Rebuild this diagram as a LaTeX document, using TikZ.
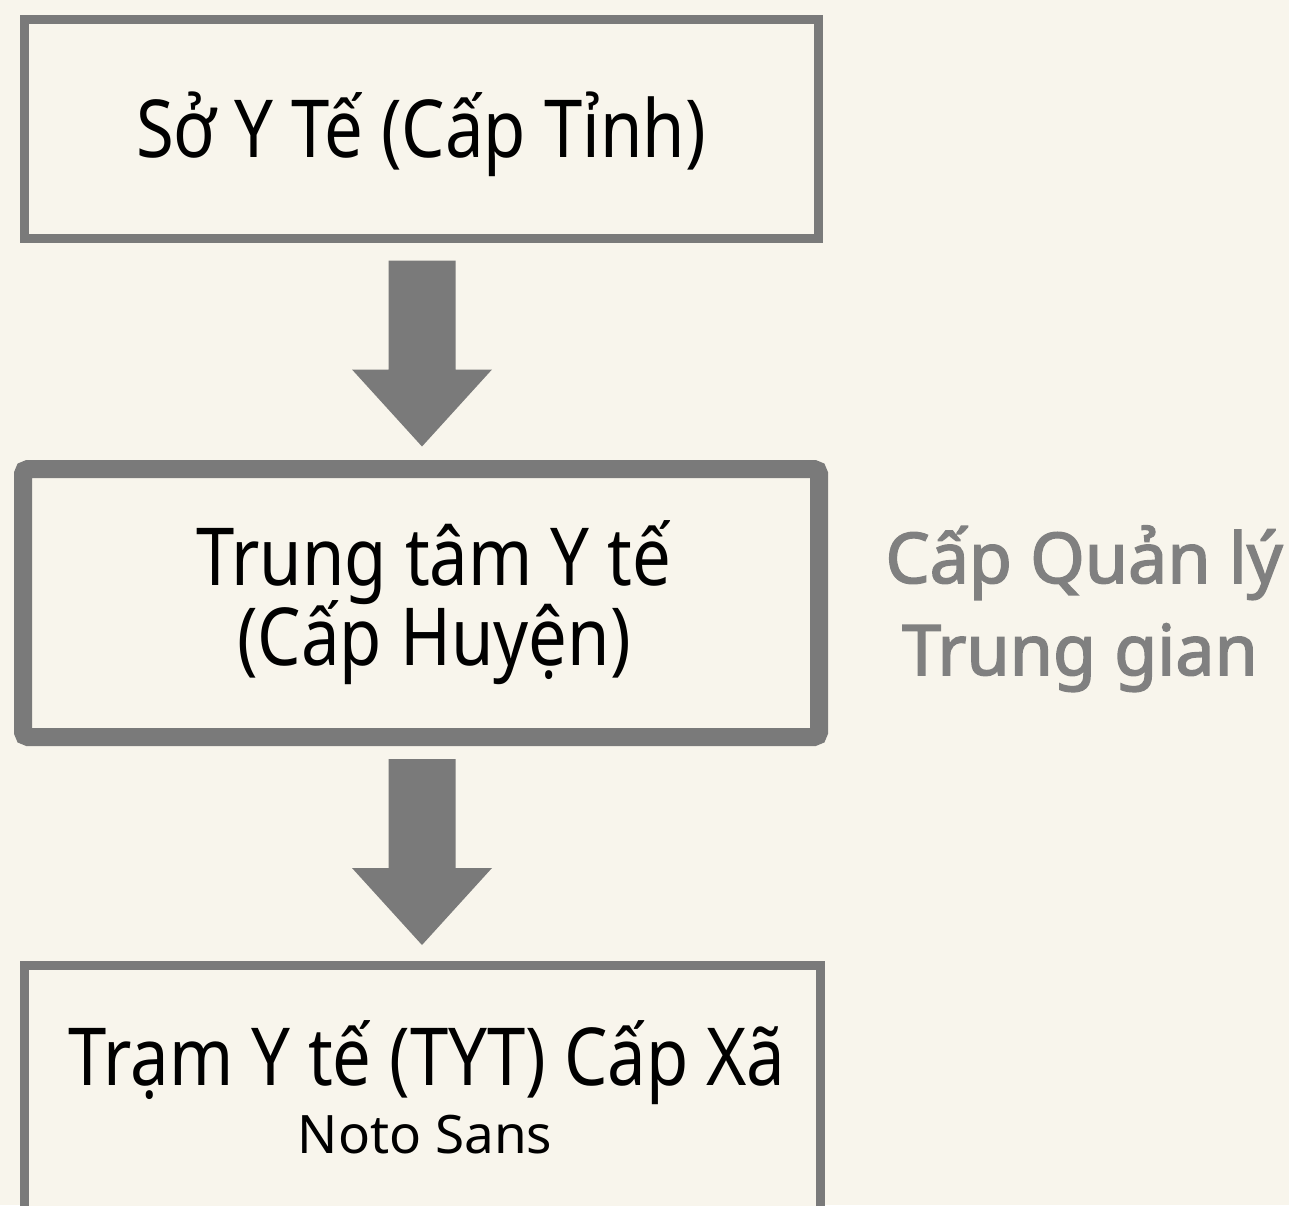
\documentclass[tikz,border=0pt]{standalone}
\usepackage{fontspec}
\setmainfont{Noto Sans}[FakeStretch=0.86]
\newfontfamily\sidefont{Noto Sans}[FakeBold=2.2]
\newfontfamily\plainnoto{Noto Sans}
\usetikzlibrary{calc}
\definecolor{bgcream}{HTML}{F8F5EC}
\definecolor{edgegrey}{HTML}{7A7A7A}
\definecolor{sidegrey}{HTML}{808080}
\tikzset{
  boxthin/.style={draw=edgegrey, line width=9pt, fill=bgcream, inner sep=0pt},
  boxthick/.style={draw=edgegrey, line width=18pt, fill=bgcream, inner sep=0pt, rounded corners=5pt},
  maintext/.style={font=\fontsize{80}{84}\selectfont, text=black, inner sep=0pt, align=center},
  subtext/.style={font=\plainnoto\fontsize{53}{56}\selectfont, text=black, inner sep=0pt},
  sidetext/.style={font=\sidefont\fontsize{70}{92}\selectfont, text=sidegrey, inner sep=0pt, align=center},
  arrowfill/.style={fill=edgegrey}
}
\newcommand{\blockarrow}[1]{%
  \fill[arrowfill] ($(#1)+(-33.5,0)$) -- ($(#1)+(33.5,0)$) -- ($(#1)+(33.5,109)$) -- ($(#1)+(70,109)$)
    -- ($(#1)+(0,186)$) -- ($(#1)+(-70,109)$) -- ($(#1)+(-33.5,109)$) -- cycle;}
\begin{document}
\begin{tikzpicture}[x=1pt, y=-1pt]
  \clip (0,0) rectangle (1289,1205);
  \fill[bgcream] (0,0) rectangle (1289,1205);
  % boxes
  \node[boxthin, minimum width=794pt, minimum height=219pt] (b1) at (421,128.5) {};
  \node[maintext, anchor=base] (t1) at (421,157) {Sở Y Tế (Cấp Tỉnh)};
  \node[boxthick, minimum width=796pt, minimum height=268pt] (b2) at (421,603) {};
  \node[maintext, anchor=base] (t2a) at (434,585) {Trung tâm Y tế};
  \node[maintext, anchor=base] (t2b) at (434,665) {(Cấp Huyện)};
  \node[boxthin, minimum width=796pt, minimum height=400pt] (b3) at (422,1165.5) {};
  \node[maintext, anchor=base] (t3) at (427,1085) {Trạm Y tế (TYT) Cấp Xã};
  \node[subtext, anchor=base] (t3s) at (425,1153) {Noto Sans};
  % arrows
  \coordinate (a1) at ($(b1.south)+(1,18)$);
  \coordinate (a2) at ($(b2.south)+(1,13)$);
  \blockarrow{a1}
  \blockarrow{a2}
  % side label
  \node[sidetext, anchor=base] (s1) at (1084,583) {Cấp Quản lý};
  \node[sidetext, anchor=base] (s2) at (1080,675) {Trung gian};
\end{tikzpicture}
\end{document}
